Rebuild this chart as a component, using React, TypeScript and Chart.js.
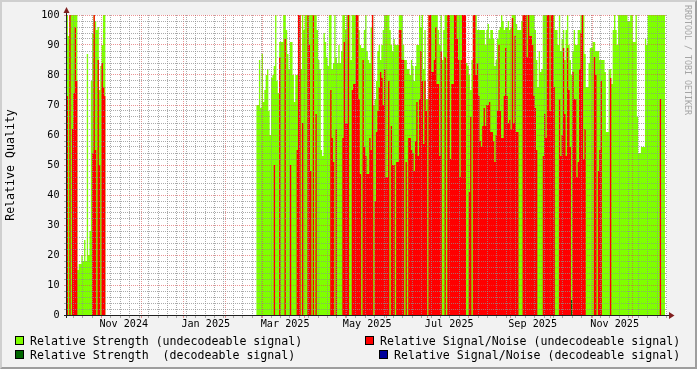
import React, { useEffect, useRef } from 'react';
import { Chart, registerables } from 'chart.js';

Chart.register(...registerables);

// ---- time axis: days since 2024-11-01 ----
const X_MIN_DAY = -25.7;
const X_MAX_DAY = 420.4;
const monthStartDays = [0, 30, 61, 92, 120, 151, 181, 212, 242, 273, 304, 334, 365, 395];
const monthLabels = ['Nov 2024', 'Jan 2025', 'Mar 2025', 'May 2025', 'Jul 2025', 'Sep 2025', 'Nov 2025'];
const monthLabelDays = [0, 61, 120, 181, 242, 304, 365];
const LABEL_OFFSET_DAYS = 16.5;
const WEEK_FIRST_DAY = -21;
const WEEK_LAST_DAY = 420;

// ---- y axis ----
const Y_MIN = 0;
const Y_MAX = 100;
const Y_MINOR_STEP = 2;
const Y_LABEL_STEP = 10;

// ---- series (one value per day) ----
const earlyStartDay = -26;
const strengthEarly = [
  100, 93, 100, 100, 100, 100, 100, 100,
  15, 17, 17, 20, 18, 25, 18, 87, 20, 28, 78,
  94, 100, 98, 95, 96, 75, 83, 90, 100, 100,
];
const snrEarly = [
  73, 0, 100, 0, 62, 74, 96, 78,
  0, 0, 0, 0, 0, 0, 0, 0, 0, 0, 0,
  54, 100, 55, 0, 85, 50, 0, 84, 76, 73,
];

const mainStartDay = 115;
const strengthMain = [
  70, 70, 85, 69, 87, 71, 75, 80, 82, 68,
  60, 79, 80, 83, 100, 78, 74, 91, 91, 91,
  100, 100, 95, 87, 82, 91, 91, 80, 71, 80,
  80, 100, 100, 82, 100, 95, 100, 100, 100, 100,
  100, 100, 100, 100, 100, 95, 85, 82, 55, 53,
  94, 91, 86, 83, 100, 100, 82, 84, 100, 86,
  84, 90, 84, 88, 100, 100, 95, 100, 100, 100,
  85, 100, 100, 100, 100, 100, 95, 90, 89, 89,
  95, 100, 88, 85, 84, 96, 100, 70, 72, 78,
  88, 90, 85, 90, 95, 100, 100, 100, 100, 95,
  90, 88, 92, 90, 90, 90, 100, 100, 100, 90,
  85, 85, 82, 82, 80, 85, 83, 78, 83, 90,
  90, 100, 96, 100, 82, 95, 72, 72, 100, 100,
  100, 100, 100, 100, 100, 95, 90, 100, 85, 95,
  100, 100, 100, 100, 100, 100, 100, 100, 100, 100,
  100, 100, 100, 100, 100, 100, 84, 83, 80, 75,
  85, 100, 100, 100, 95, 95, 95, 95, 95, 95,
  90, 95, 97, 92, 95, 95, 92, 83, 85, 92,
  95, 96, 100, 98, 95, 96, 96, 98, 95, 96,
  100, 100, 100, 97, 95, 95, 95, 98, 100, 100,
  100, 100, 100, 100, 100, 100, 100, 95, 85, 76,
  88, 81, 82, 100, 100, 100, 100, 100, 100, 100,
  100, 100, 95, 95, 90, 100, 88, 92, 95, 85,
  95, 100, 90, 85, 80, 88, 95, 90, 90, 95,
  95, 100, 100, 100, 87, 76, 76, 84, 89, 89,
  91, 91, 88, 88, 88, 85, 85, 85, 85, 81,
  61, 61, 82, 82, 77, 95, 100, 95, 90, 100,
  100, 100, 100, 100, 100, 100, 98, 98, 100, 100,
  91, 91, 100, 66, 54, 54, 56, 56, 56, 92,
  90, 100, 100, 100, 100, 100, 100, 100, 100, 100,
  100, 100, 100, 100,
];
const snrMain = [
  0, 0, 0, 0, 0, 0, 0, 0, 0, 0,
  0, 0, 0, 50, 0, 0, 0, 86, 0, 0,
  0, 92, 0, 0, 0, 50, 0, 0, 0, 0,
  55, 100, 100, 0, 64, 0, 0, 0, 100, 90,
  48, 0, 100, 0, 67, 0, 0, 0, 0, 0,
  0, 0, 0, 0, 0, 75, 59, 51, 0, 62,
  0, 0, 0, 0, 59, 91, 64, 64, 100, 0,
  0, 75, 77, 77, 100, 100, 72, 47, 0, 85,
  56, 53, 47, 47, 59, 55, 100, 0, 38, 61,
  68, 76, 81, 79, 70, 82, 46, 46, 78, 0,
  63, 50, 50, 0, 51, 51, 95, 95, 85, 85,
  0, 51, 0, 59, 59, 55, 54, 48, 58, 71,
  53, 72, 88, 78, 57, 78, 68, 0, 100, 100,
  81, 81, 85, 96, 77, 77, 53, 88, 0, 0,
  86, 0, 100, 100, 52, 77, 77, 100, 100, 92,
  85, 46, 85, 100, 100, 100, 0, 0, 41, 66,
  0, 100, 100, 80, 84, 73, 58, 56, 63, 69,
  63, 70, 70, 71, 61, 61, 58, 51, 60, 68,
  90, 68, 59, 59, 73, 89, 73, 64, 65, 62,
  99, 64, 93, 61, 61, 0, 0, 0, 100, 100,
  100, 86, 100, 93, 93, 90, 73, 69, 55, 0,
  0, 0, 0, 53, 67, 59, 100, 100, 68, 100,
  100, 76, 0, 0, 0, 72, 53, 60, 89, 67,
  53, 89, 75, 56, 0, 81, 72, 72, 46, 51,
  82, 94, 100, 52, 62, 0, 0, 0, 0, 0,
  0, 86, 80, 0, 48, 55, 78, 0, 0, 0,
  0, 0, 0, 79, 0, 0, 0, 0, 0, 0,
  0, 0, 0, 0, 0, 0, 0, 0, 0, 0,
  0, 0, 0, 0, 0, 0, 0, 0, 0, 0,
  0, 0, 0, 0, 0, 0, 0, 0, 0, 0,
  72, 0, 0, 0,
];

// decodeable signals (sparse days)
const decStrengthDays = [349];
const decStrengthValues = [5];
const decSnrDays: number[] = [];
const decSnrValues: number[] = [];

const legendItems = [
  'Relative Strength (undecodeable signal)',
  'Relative Signal/Noise (undecodeable signal)',
  'Relative Strength  (decodeable signal)',
  'Relative Signal/Noise (decodeable signal)',
];

// ---- styles ----
const GREEN = '#7FFF00';
const RED = '#FF0000';
const DKGREEN = '#006600';
const BLUE = '#000099';
const BACK = '#F2F2F2';
const GRID = 'rgba(143,143,143,0.75)';
const MGRID = 'rgba(222,79,79,0.6)';
const AXIS = '#1F1F1F';
const ARROW = '#801F1F';
const MONO = "'DejaVu Sans Mono', monospace";

type Pt = { x: number; y: number | null };

function stepPoints(start: number, values: number[]): Pt[] {
  const pts: Pt[] = values.map((v, i) => ({ x: start + i, y: v }));
  pts.push({ x: start + values.length, y: values[values.length - 1] });
  return pts;
}

function sparsePoints(days: number[], values: number[]): Pt[] {
  const pts: Pt[] = [];
  days.forEach((d, i) => {
    pts.push({ x: d, y: values[i] });
    pts.push({ x: d + 1, y: values[i] });
    pts.push({ x: d + 1.5, y: null });
  });
  return pts;
}

const labelMap = new Map<number, string>();
monthLabelDays.forEach((d, i) => labelMap.set(d + LABEL_OFFSET_DAYS, monthLabels[i]));
const majorSet = new Set<number>(monthStartDays);

function buildXTicks(): number[] {
  const s = new Set<number>();
  for (let d = WEEK_FIRST_DAY; d <= WEEK_LAST_DAY; d += 7) s.add(d);
  monthStartDays.forEach((d) => s.add(d));
  labelMap.forEach((_, k) => s.add(k));
  return Array.from(s).filter((v) => v >= X_MIN_DAY && v <= X_MAX_DAY).sort((a, b) => a - b);
}

function buildYTicks(): number[] {
  const arr: number[] = [];
  for (let v = Y_MIN; v <= Y_MAX; v += Y_MINOR_STEP) arr.push(v);
  return arr;
}

const rrdPlugin = {
  id: 'rrdFrame',
  beforeDraw(chart: any) {
    const { ctx, chartArea: a } = chart;
    ctx.save();
    ctx.fillStyle = '#FFFFFF';
    ctx.fillRect(a.left, a.top, a.right - a.left, a.bottom - a.top);
    ctx.restore();
  },
  afterDraw(chart: any) {
    const { ctx, chartArea: a } = chart;
    ctx.save();
    ctx.strokeStyle = AXIS;
    ctx.lineWidth = 1;
    ctx.beginPath();
    ctx.moveTo(a.left - 3, a.bottom + 0.5);
    ctx.lineTo(a.right + 2, a.bottom + 0.5);
    ctx.moveTo(a.left - 0.5, a.bottom + 3);
    ctx.lineTo(a.left - 0.5, a.top - 2);
    ctx.stroke();
    ctx.fillStyle = ARROW;
    ctx.beginPath();
    ctx.moveTo(a.right + 2, a.bottom - 3);
    ctx.lineTo(a.right + 7.5, a.bottom + 0.5);
    ctx.lineTo(a.right + 2, a.bottom + 4);
    ctx.closePath();
    ctx.fill();
    ctx.beginPath();
    ctx.moveTo(a.left - 3.5, a.top - 2);
    ctx.lineTo(a.left - 0.5, a.top - 8);
    ctx.lineTo(a.left + 2.5, a.top - 2);
    ctx.closePath();
    ctx.fill();
    ctx.restore();
  },
};

export default function App() {
  const ref = useRef<HTMLCanvasElement | null>(null);

  useEffect(() => {
    if (!ref.current) return;
    const xTicks = buildXTicks();
    const yTicks = buildYTicks();
    const gap: Pt = { x: 60, y: null };
    const strengthData = [...stepPoints(earlyStartDay, strengthEarly), gap, ...stepPoints(mainStartDay, strengthMain)];
    const snrData = [...stepPoints(earlyStartDay, snrEarly), gap, ...stepPoints(mainStartDay, snrMain)];

    const common = {
      borderWidth: 0,
      borderColor: 'rgba(0,0,0,0)',
      pointRadius: 0,
      pointHoverRadius: 0,
      fill: 'origin',
      stepped: 'before',
      spanGaps: false,
    };

    const isLabel = (v: number) => labelMap.has(v);

    const chart = new Chart(ref.current, {
      type: 'line',
      data: {
        datasets: [
          { ...common, label: legendItems[0], data: strengthData, backgroundColor: GREEN, order: 4 },
          { ...common, label: legendItems[1], data: snrData, backgroundColor: RED, order: 3 },
          { ...common, label: legendItems[2], data: sparsePoints(decStrengthDays, decStrengthValues), backgroundColor: DKGREEN, order: 2 },
          { ...common, label: legendItems[3], data: sparsePoints(decSnrDays, decSnrValues), backgroundColor: BLUE, order: 1 },
        ] as any,
      },
      options: {
        animation: false,
        responsive: false,
        devicePixelRatio: 1,
        events: [],
        layout: { padding: { left: 0, top: 15, right: 30, bottom: 0 } },
        plugins: { legend: { display: false }, tooltip: { enabled: false } },
        scales: {
          x: {
            type: 'linear',
            min: X_MIN_DAY,
            max: X_MAX_DAY,
            afterFit: (s: any) => { s.height = 54; },
            afterBuildTicks: (s: any) => { s.ticks = xTicks.map((v) => ({ value: v })); },
            ticks: {
              autoSkip: false,
              maxRotation: 0,
              minRotation: 0,
              padding: 0.5,
              color: '#000000',
              font: { family: MONO, size: 10.15 },
              callback: (v: any) => labelMap.get(Number(v)) ?? '',
            },
            grid: {
              z: 1,
              drawTicks: true,
              tickLength: 3,
              color: (c: any) => (isLabel(c.tick.value) ? 'rgba(0,0,0,0)' : majorSet.has(c.tick.value) ? MGRID : GRID),
              lineWidth: (c: any) => (isLabel(c.tick.value) ? 0 : 1),
              tickColor: (c: any) => (isLabel(c.tick.value) ? 'rgba(0,0,0,0)' : majorSet.has(c.tick.value) ? MGRID : GRID),
              tickWidth: (c: any) => (isLabel(c.tick.value) ? 0 : 1),
            },
            border: { display: false, dash: [1, 1] },
          },
          y: {
            type: 'linear',
            min: Y_MIN,
            max: Y_MAX,
            afterFit: (s: any) => { s.width = 67; },
            afterBuildTicks: (s: any) => { s.ticks = yTicks.map((v) => ({ value: v })); },
            ticks: {
              autoSkip: false,
              padding: 4.5,
              color: '#000000',
              font: { family: MONO, size: 10.15 },
              callback: (v: any) => (Number(v) % Y_LABEL_STEP === 0 ? String(v) : ''),
            },
            grid: {
              z: 1,
              drawTicks: true,
              tickLength: 3,
              color: (c: any) => (c.tick.value % Y_LABEL_STEP === 0 ? MGRID : GRID),
              tickColor: (c: any) => (c.tick.value % Y_LABEL_STEP === 0 ? MGRID : GRID),
              lineWidth: 1,
            },
            border: { display: false, dash: [1, 1] },
            title: {
              display: true,
              text: 'Relative Quality',
              color: '#000000',
              font: { family: MONO, size: 11.6 },
              padding: { top: 4, bottom: 0 },
            },
          },
        },
      } as any,
      plugins: [rrdPlugin],
    });
    return () => chart.destroy();
  }, []);

  const legendText: React.CSSProperties = {
    position: 'absolute',
    fontFamily: MONO,
    fontSize: '11.6px',
    lineHeight: '14px',
    whiteSpace: 'pre',
    color: '#000',
  };
  const box = (color: string, left: number, top: number): React.CSSProperties => ({
    position: 'absolute',
    left,
    top,
    width: 9,
    height: 9,
    boxSizing: 'border-box',
    border: '1px solid #000',
    background: color,
  });

  return (
    <div style={{ position: 'fixed', left: 0, top: 0, width: 697, height: 369, background: BACK, overflow: 'hidden' }}>
      <canvas ref={ref} width={697} height={369} style={{ position: 'absolute', left: 0, top: 0 }} />
      <div style={box(GREEN, 15, 336)} />
      <div style={{ ...legendText, left: 30, top: 334 }}>{legendItems[0]}</div>
      <div style={box(RED, 365, 336)} />
      <div style={{ ...legendText, left: 380, top: 334 }}>{legendItems[1]}</div>
      <div style={box(DKGREEN, 15, 350)} />
      <div style={{ ...legendText, left: 30, top: 348 }}>{legendItems[2]}</div>
      <div style={box(BLUE, 379, 350)} />
      <div style={{ ...legendText, left: 394, top: 348 }}>{legendItems[3]}</div>
      <div
        style={{
          position: 'absolute',
          left: 687.5,
          top: 60,
          transform: 'translate(-50%, -50%) rotate(90deg)',
          fontFamily: MONO,
          fontSize: '8.3px',
          lineHeight: '10px',
          whiteSpace: 'pre',
          color: '#A5A5A5',
        }}
      >
        RRDTOOL / TOBI OETIKER
      </div>
      <div
        style={{
          position: 'absolute',
          left: 0,
          top: 0,
          width: 697,
          height: 369,
          boxSizing: 'border-box',
          borderStyle: 'solid',
          borderWidth: 2,
          borderColor: '#CFCFCF #9E9E9E #9E9E9E #CFCFCF',
          pointerEvents: 'none',
        }}
      />
    </div>
  );
}
